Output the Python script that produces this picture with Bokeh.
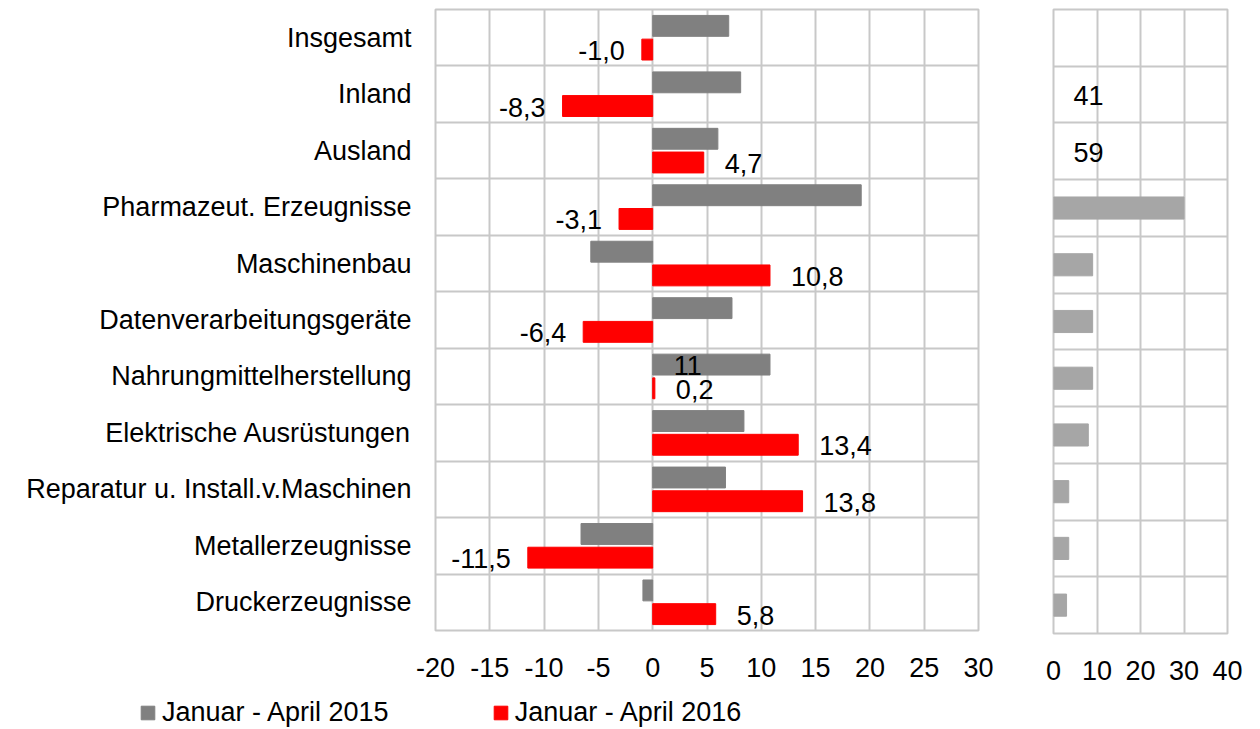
from bokeh.plotting import figure
from bokeh.models import Range1d, FixedTicker, Grid, Legend, LegendItem, ColumnDataSource, LabelSet
from bokeh.layouts import row, column
from bokeh.embed import file_html
from bokeh.resources import INLINE
from bokeh.core.properties import value

# ---------------- data ----------------
categories = [
    "Insgesamt", "Inland", "Ausland", "Pharmazeut. Erzeugnisse", "Maschinenbau",
    "Datenverarbeitungsgeräte", "Nahrungmittelherstellung", "Elektrische Ausrüstungen",
    "Reparatur u. Install.v.Maschinen", "Metallerzeugnisse", "Druckerzeugnisse",
]
series_names = ["Januar - April 2015", "Januar - April 2016"]
values_2015 = [7.0, 8.1, 6.0, 19.2, -5.7, 7.3, 10.8, 8.4, 6.7, -6.6, -0.9]
values_2016 = [-1.0, -8.3, 4.7, -3.1, 10.8, -6.4, 0.2, 13.4, 13.8, -11.5, 5.8]
labels_2015 = ["", "", "", "", "", "", "11", "", "", "", ""]
share_values = [None, None, None, 30, 9, 9, 9, 8, 3.5, 3.5, 3]
share_labels = ["", "41", "59", "", "", "", "", "", "", "", ""]
main_ticks = [-20, -15, -10, -5, 0, 5, 10, 15, 20, 25, 30]
side_ticks = [0, 10, 20, 30, 40]

FONT = "Liberation Sans"
FS = "27px"
GRID = "#C8C8C8"
GRAY = "#808080"
RED = "#FF0000"
SIDE = "#A6A6A6"

n = len(categories)
ypos = [n - 1 - i for i in range(n)]
OFF = 0.21
BH = 0.37

def fmt(v):
    return f"{v:.1f}".replace(".", ",")

def style_axis(ax, standoff):
    ax.axis_line_color = None
    ax.major_tick_line_color = None
    ax.minor_tick_line_color = None
    ax.major_tick_out = 0
    ax.major_tick_in = 0
    ax.minor_tick_out = 0
    ax.minor_tick_in = 0
    ax.major_label_text_font = FONT
    ax.major_label_text_font_size = FS
    ax.major_label_text_color = "black"
    ax.major_label_standoff = standoff

def labelset(src, x_offset, align):
    return LabelSet(x="x", y="y", text="t", source=src, x_offset=x_offset, y_offset=-1,
                    text_align=align, text_baseline="middle", text_font=value(FONT),
                    text_font_size=value(FS), text_color="black")

src15 = ColumnDataSource(dict(y=[y + OFF for y in ypos], v=values_2015))
src16 = ColumnDataSource(dict(y=[y - OFF for y in ypos], v=values_2016))

# ---------------- main figure ----------------
p = figure(frame_width=543, frame_height=621, min_border_left=435, min_border_right=30,
           min_border_top=9, min_border_bottom=65,
           x_range=Range1d(-20, 30), y_range=Range1d(-0.5, n - 0.5),
           output_backend="svg", toolbar_location=None, background_fill_color="white",
           border_fill_color="white")
p.outline_line_color = GRID
p.outline_line_width = 2

p.hbar(y="y", right="v", left=0, height=BH, color=GRAY, source=src15)
p.hbar(y="y", right="v", left=0, height=BH, color=RED, source=src16)

p.xaxis.ticker = FixedTicker(ticks=main_ticks)
p.xaxis.major_label_overrides = {t: str(t) for t in main_ticks}
p.yaxis.ticker = FixedTicker(ticks=ypos)
p.yaxis.major_label_overrides = {y: c for y, c in zip(ypos, categories)}
style_axis(p.xaxis[0], 27)
style_axis(p.yaxis[0], 24)

p.xgrid.ticker = FixedTicker(ticks=main_ticks)
p.xgrid.grid_line_color = GRID
p.xgrid.grid_line_width = 2
p.ygrid.visible = False
p.add_layout(Grid(dimension=1, ticker=FixedTicker(ticks=[y - 0.5 for y in range(n + 1)]),
                  grid_line_color=GRID, grid_line_width=2))

# value labels
pos = [(y - OFF, v) for y, v in zip(ypos, values_2016) if v >= 0]
neg = [(y - OFF, v) for y, v in zip(ypos, values_2016) if v < 0]
src_pos = ColumnDataSource(dict(y=[a for a, b in pos], x=[b for a, b in pos], t=[fmt(b) for a, b in pos]))
src_neg = ColumnDataSource(dict(y=[a for a, b in neg], x=[b for a, b in neg], t=[fmt(b) for a, b in neg]))
p.add_layout(labelset(src_pos, 21, "left"))
p.add_layout(labelset(src_neg, -17, "right"))
l15 = [(y + OFF, t) for y, t in zip(ypos, labels_2015) if t]
src_l15 = ColumnDataSource(dict(y=[a for a, b in l15], x=[0] * len(l15), t=[b for a, b in l15]))
p.add_layout(labelset(src_l15, 21, "left"))

# ---------------- side figure ----------------
sy = [y for y, v in zip(ypos, share_values) if v is not None]
sv = [v for v in share_values if v is not None]
src_side = ColumnDataSource(dict(y=sy, v=sv))
q = figure(frame_width=174, frame_height=624, min_border_left=45, min_border_right=20,
           min_border_top=3, min_border_bottom=68,
           x_range=Range1d(0, 40), y_range=Range1d(-0.5, n - 0.5),
           output_backend="svg", toolbar_location=None, background_fill_color="white",
           border_fill_color="white")
q.outline_line_color = GRID
q.outline_line_width = 2
q.hbar(y="y", right="v", left=0, height=0.39, color=SIDE, source=src_side)
q.yaxis.visible = False
q.xaxis.ticker = FixedTicker(ticks=side_ticks)
style_axis(q.xaxis[0], 27)
q.xgrid.ticker = FixedTicker(ticks=side_ticks)
q.xgrid.grid_line_color = GRID
q.xgrid.grid_line_width = 2
q.ygrid.visible = False
q.add_layout(Grid(dimension=1, ticker=FixedTicker(ticks=[y - 0.5 for y in range(n + 1)]),
                  grid_line_color=GRID, grid_line_width=2))
sl = [(y, t) for y, t in zip(ypos, share_labels) if t]
src_sl = ColumnDataSource(dict(y=[a for a, b in sl], x=[0] * len(sl), t=[b for a, b in sl]))
q.add_layout(labelset(src_sl, 20, "left"))

# ---------------- legend strip ----------------
lf = figure(width=1247, height=34, min_border=0, x_range=Range1d(0, 1), y_range=Range1d(0, 1),
            output_backend="svg", toolbar_location=None, background_fill_color="white",
            border_fill_color="white")
lf.axis.visible = False
lf.grid.visible = False
lf.outline_line_color = None
# legend-swatch carriers (placed outside the visible range of this strip)
g15 = lf.hbar(y=[-5], right=[0], left=0, height=0.5, color=GRAY)
g16 = lf.hbar(y=[-5], right=[0], left=0, height=0.5, color=RED)
legend = Legend(items=[LegendItem(label=series_names[0], renderers=[g15]),
                       LegendItem(label=series_names[1], renderers=[g16])],
                orientation="horizontal", location=(139, 1),
                glyph_width=17, glyph_height=17, label_standoff=6, spacing=103,
                padding=0, margin=0, border_line_alpha=0, background_fill_alpha=0,
                label_text_font=FONT, label_text_font_size=FS, label_text_color="black")
lf.add_layout(legend, "center")

layout = column(row(p, q, spacing=0), lf, spacing=0)
open("out.html", "w").write(file_html(layout, INLINE))
